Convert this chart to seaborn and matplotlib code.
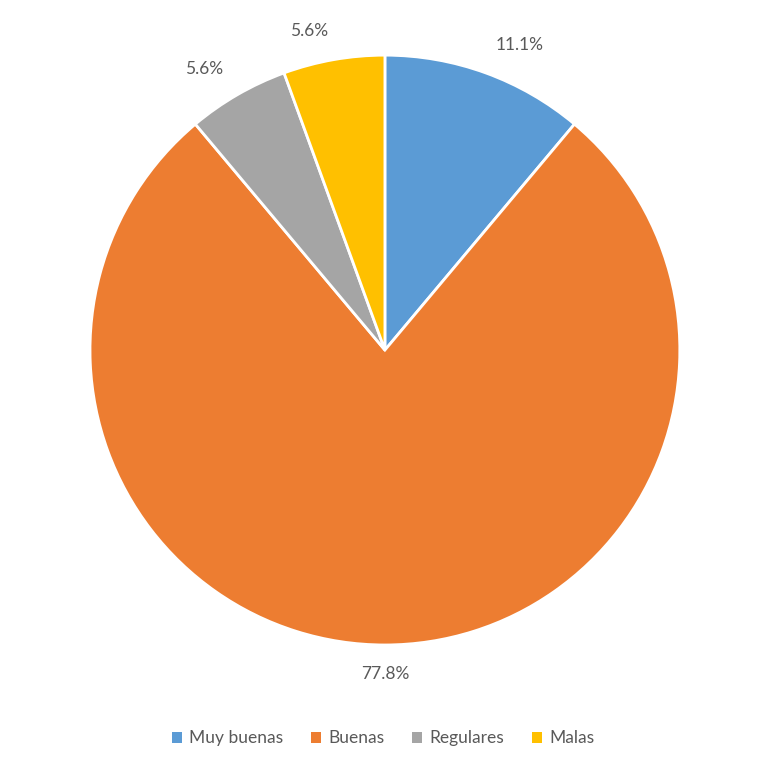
import matplotlib
matplotlib.use("Agg")
import matplotlib.pyplot as plt
import seaborn as sns
from matplotlib.patches import Patch

categories = ["Muy buenas", "Buenas", "Regulares", "Malas"]
counts = [2, 14, 1, 1]
colors = ["#5B9BD5", "#ED7D31", "#A5A5A5", "#FFC000"]

sns.set_theme(style="white")
plt.rcParams["font.family"] = ["Lato", "DejaVu Sans"]
palette = sns.color_palette(colors)

fig = plt.figure(figsize=(7.66, 7.66), dpi=100)
ax = fig.add_axes([0.1175, 0.158, 0.770, 0.770])

wedges, texts, autotexts = ax.pie(
    counts, colors=palette, startangle=90, counterclock=False,
    autopct="%.1f%%", pctdistance=1.10,
    wedgeprops=dict(edgecolor="white", linewidth=2),
    textprops=dict(color="#595959", fontsize=12.5),
)
# align labels like "outside end" labels
for t in autotexts:
    x, y = t.get_position()
    if x > 0.05:
        t.set_ha("left")
    elif x < -0.05:
        t.set_ha("right")
    else:
        t.set_ha("center")

ax.set_xlim(-1, 1)
ax.set_ylim(-1, 1)
ax.set_aspect("equal")
ax.axis("off")

handles = [Patch(facecolor=c, edgecolor="none") for c in colors]
fig.legend(handles, categories, loc="center", bbox_to_anchor=(0.5, 0.036),
           ncol=4, frameon=False, fontsize=12.5, labelcolor="#595959",
           handlelength=0.6, handleheight=0.6, handletextpad=0.4, columnspacing=1.6)

fig.savefig("out.png", dpi=100, facecolor="white")
